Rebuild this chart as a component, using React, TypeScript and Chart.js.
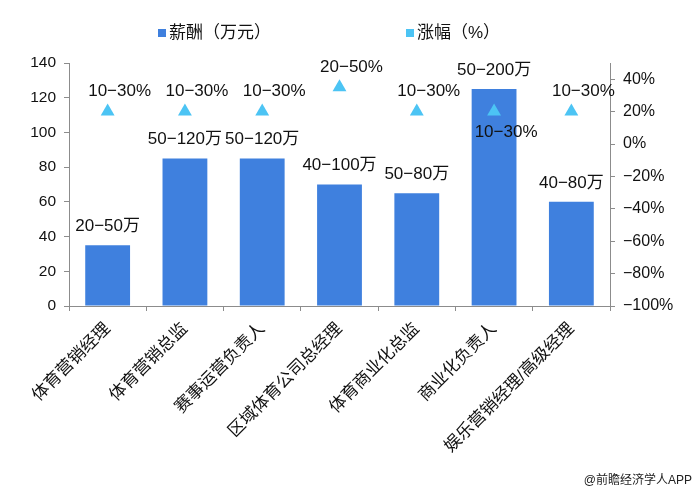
import React, { useEffect, useRef } from "react";
import { Chart, registerables } from "chart.js";

Chart.register(...registerables);

const categories = [
  "体育营销经理",
  "体育营销总监",
  "赛事运营负责人",
  "区域体育公司总经理",
  "体育商业化总监",
  "商业化负责人",
  "娱乐营销经理/高级经理",
];
const salary = [35, 85, 85, 70, 65, 125, 60];
const salaryLabels = ["20−50万", "50−120万", "50−120万", "40−100万", "50−80万", "50−200万", "40−80万"];
const growth = [20, 20, 20, 35, 20, 20, 20];
const growthLabels = ["10−30%", "10−30%", "10−30%", "20−50%", "10−30%", "10−30%", "10−30%"];
const leftTicks = [0, 20, 40, 60, 80, 100, 120, 140];
const rightTicks = [-100, -80, -60, -40, -20, 0, 20, 40];

const legendNames = ["薪酬（万元）", "涨幅（%）"];
const sourceText = "@前瞻经济学人APP";

const BAR_COLOR = "#3F80DE";
const TRI_COLOR = "#4CC4F4";
const AXIS_COLOR = "#8C8C8C";
const FONT = "'Liberation Sans', 'Noto Sans CJK SC', sans-serif";

const overlayPlugin = {
  id: "overlay",
  afterDatasetsDraw(chart: any) {
    const ctx = chart.ctx;
    const barMeta = chart.getDatasetMeta(1);
    const triMeta = chart.getDatasetMeta(0);
    ctx.save();
    ctx.fillStyle = "#111";
    ctx.textAlign = "center";
    ctx.textBaseline = "middle";
    ctx.font = `17px ${FONT}`;
    barMeta.data.forEach((el: any, i: number) => {
      ctx.fillText(salaryLabels[i], el.x, el.y - 19);
    });
    triMeta.data.forEach((el: any, i: number) => {
      const bar = barMeta.data[i];
      const below = bar.y < el.y;
      ctx.fillText(growthLabels[i], el.x + 12, below ? el.y + 21 : el.y - 20);
    });
    // legend
    const ly = 33;
    ctx.textAlign = "left";
    ctx.font = `17px ${FONT}`;
    ctx.fillStyle = BAR_COLOR;
    ctx.fillRect(158, ly - 4, 8, 8);
    ctx.fillStyle = "#111";
    ctx.fillText(legendNames[0], 169, ly);
    ctx.fillStyle = TRI_COLOR;
    ctx.fillRect(406, ly - 4, 8, 8);
    ctx.fillStyle = "#111";
    ctx.fillText(legendNames[1], 417, ly);
    // source
    ctx.font = `12px ${FONT}`;
    ctx.textAlign = "right";
    ctx.fillStyle = "#222";
    ctx.fillText(sourceText, 692, 481);
    ctx.restore();
  },
};

export default function App() {
  const ref = useRef<HTMLCanvasElement>(null);
  useEffect(() => {
    if (!ref.current) return;
    const chart = new Chart(ref.current, {
      type: "bar",
      data: {
        labels: categories,
        datasets: [
          {
            type: "line",
            label: legendNames[1],
            data: growth,
            yAxisID: "y1",
            showLine: false,
            pointStyle: "triangle",
            pointRadius: 8,
            pointBackgroundColor: TRI_COLOR,
            pointBorderColor: TRI_COLOR,
            pointBorderWidth: 0,
            order: 0,
          } as any,
          {
            type: "bar",
            label: legendNames[0],
            data: salary,
            yAxisID: "y",
            backgroundColor: BAR_COLOR,
            barPercentage: 0.58,
            categoryPercentage: 1,
            order: 1,
          },
        ],
      },
      options: {
        responsive: false,
        animation: false,
        devicePixelRatio: 1,
        layout: { padding: { top: 63, left: 0, right: 0, bottom: 0 } },
        plugins: { legend: { display: false }, tooltip: { enabled: false } },
        scales: {
          x: {
            offset: true,
            grid: { display: true, drawOnChartArea: false, tickLength: 5, color: AXIS_COLOR, offset: true },
            border: { color: AXIS_COLOR },
            ticks: {
              autoSkip: false,
              minRotation: 45,
              maxRotation: 45,
              color: "#111",
              padding: 8,
              font: { family: FONT, size: 17 },
            },
            afterFit: (s: any) => {
              s.height = 185;
            },
          },
          y: {
            position: "left",
            min: 0,
            max: 140,
            afterBuildTicks: (s: any) => {
              s.ticks = leftTicks.map((v) => ({ value: v }));
            },
            grid: { drawOnChartArea: false, tickLength: 5, color: AXIS_COLOR },
            border: { color: AXIS_COLOR },
            ticks: { color: "#111", padding: 8, font: { family: FONT, size: 15.5 } },
            afterFit: (s: any) => {
              s.width = 69;
            },
          },
          y1: {
            position: "right",
            min: -100,
            max: 50,
            afterBuildTicks: (s: any) => {
              s.ticks = rightTicks.map((v) => ({ value: v }));
            },
            grid: { drawOnChartArea: false, tickLength: 5, color: AXIS_COLOR },
            border: { color: AXIS_COLOR },
            ticks: {
              color: "#111",
              padding: 8,
              font: { family: FONT, size: 16 },
              callback: (v: any) => `${String(v).replace("-", "−")}%`,
            },
            afterFit: (s: any) => {
              s.width = 88;
            },
          },
        },
      },
      plugins: [overlayPlugin],
    });
    return () => chart.destroy();
  }, []);
  return (
    <div style={{ position: "fixed", left: 0, top: 0, width: 698, height: 491, background: "#fff" }}>
      <canvas ref={ref} width={698} height={491} />
    </div>
  );
}
